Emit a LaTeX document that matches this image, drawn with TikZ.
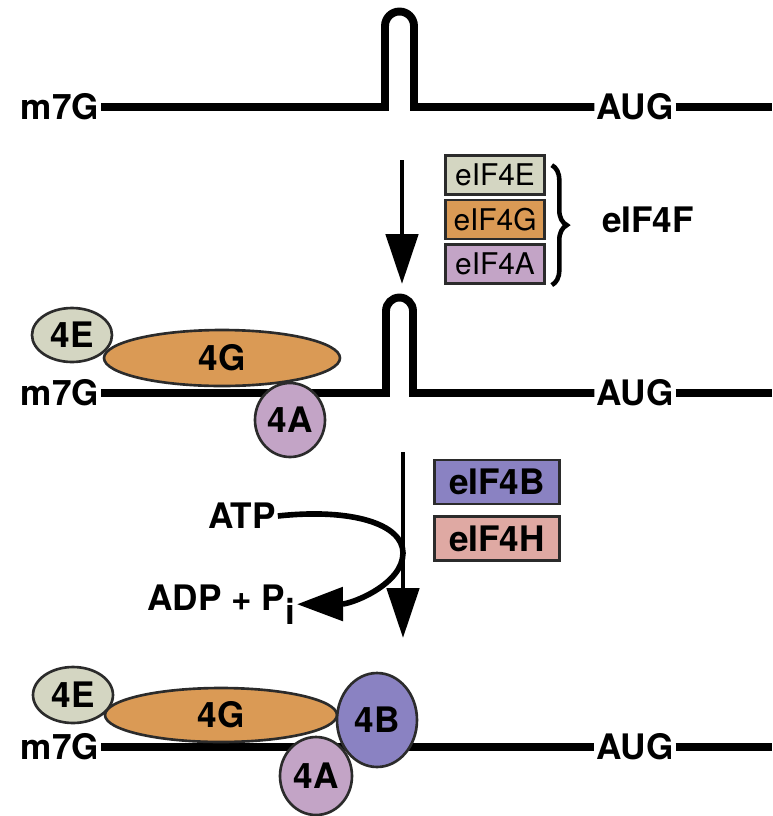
\documentclass[tikz,border=0pt]{standalone}
\usepackage{fontspec}
\setmainfont{TeX Gyre Heros}
\usetikzlibrary{arrows.meta,positioning,shapes.geometric,decorations.pathreplacing}

\definecolor{colE}{HTML}{D4D6C2}
\definecolor{colG}{HTML}{DA9A55}
\definecolor{colA}{HTML}{C3A4C6}
\definecolor{colB}{HTML}{8A82C2}
\definecolor{colH}{HTML}{DFA9A3}
\definecolor{edge}{HTML}{2B2B2B}

\tikzset{
  rna/.style={line width=4.5pt},
  lbl/.style={font=\fontsize{20}{20}\selectfont\bfseries, inner sep=1pt},
  prot/.style={ellipse, draw=edge, line width=1.5pt, inner sep=0pt,
    font=\fontsize{20}{20}\selectfont\bfseries},
  fbox/.style={rectangle, draw=edge, line width=1.5pt, inner sep=0pt,
    minimum width=1.98cm, minimum height=0.78cm, font=\fontsize{17}{17}\selectfont},
  bbox/.style={rectangle, draw=edge, line width=1.5pt, inner sep=0pt,
    minimum width=2.5cm, minimum height=0.88cm, font=\fontsize{20}{20}\selectfont\bfseries},
  stepdown/.style={line width=2.8pt, -{Triangle[length=1cm, width=0.64cm]}},
  hydro/.style={line width=3.2pt, -{Triangle[length=0.92cm, width=0.66cm]}},
  brc/.style={decorate, decoration={brace, amplitude=0.3cm}, line width=2.6pt}
}

\begin{document}
\begin{tikzpicture}[x=0.02cm, y=-0.02cm]
  \fill[white] (0,0) rectangle (772,816);
  \useasboundingbox (0,0) rectangle (772,816);

  % free mRNA with hairpin
  \node[lbl, anchor=east] (m7g1) at (101,107) {m7G};
  \node[lbl] (aug1) at (635,107) {AUG};
  \coordinate (end1) at (772,107);
  \draw[rna] (m7g1.east) -- (385,107) -- (385,26)
    arc[start angle=180, end angle=360, radius=14.5] -- (414,107) -- (aug1.west);
  \draw[rna] (aug1.east) -- (end1);

  % eIF4F binds
  \coordinate (s1a) at (402,160);
  \coordinate (s1b) at (402,284);
  \draw[stepdown] (s1a) -- (s1b);
  \node[fbox, fill=colE] (bx4e) at (495,175) {eIF4E};
  \node[fbox, fill=colG, below=0.06cm of bx4e] (bx4g) {eIF4G};
  \node[fbox, fill=colA, below=0.06cm of bx4g] (bx4a) {eIF4A};
  \draw[brc] ([xshift=0.12cm, yshift=-0.22cm]bx4e.north east) -- ([xshift=0.12cm]bx4a.south east);
  \node[lbl, anchor=west] (eif4f) at (600,220) {eIF4F};

  % cap-bound eIF4F
  \node[lbl, anchor=east] (m7g2) at (101,393) {m7G};
  \node[lbl] (aug2) at (635,393) {AUG};
  \coordinate (end2) at (772,393);
  \draw[rna] (m7g2.east) -- (386,393) -- (386,311)
    arc[start angle=180, end angle=360, radius=13.5] -- (413,393) -- (aug2.west);
  \draw[rna] (aug2.east) -- (end2);
  \node[prot, fill=colG, minimum width=4.72cm, minimum height=1.12cm] (g2) at (222,358) {4G};
  \node[prot, fill=colE, minimum width=1.6cm, minimum height=1.08cm] (e2) at (72,335) {4E};
  \node[prot, fill=colA, minimum width=1.4cm, minimum height=1.48cm] (a2) at (290,420) {4A};

  % unwinding step
  \coordinate (s2a) at (403,452);
  \coordinate (s2b) at (403,638);
  \draw[stepdown] (s2a) -- (s2b);
  \node[lbl] (atp) at (242,516) {ATP};
  \node[lbl, anchor=base east] (adp) at (297,610) {ADP + P\raisebox{-8pt}{i}};
  \draw[hydro] (atp.east) .. controls (352,508) and (403,524) .. (403,553)
    .. controls (403,584) and (352,604) .. (adp.east);
  \node[bbox, fill=colB] (bx4b) at (497,482) {eIF4B};
  \node[bbox, fill=colH, below=0.2cm of bx4b] (bx4h) {eIF4H};

  % unwound mRNA with eIF4B
  \node[lbl, anchor=east] (m7g3) at (101,747) {m7G};
  \node[lbl] (aug3) at (635,747) {AUG};
  \coordinate (end3) at (772,747);
  \draw[rna] (m7g3.east) -- (aug3.west);
  \draw[rna] (aug3.east) -- (end3);
  \node[prot, fill=colG, minimum width=4.64cm, minimum height=1.08cm] (g3) at (221,715) {4G};
  \node[prot, fill=colE, minimum width=1.6cm, minimum height=1.12cm] (e3) at (73,695) {4E};
  \node[prot, fill=colA, minimum width=1.44cm, minimum height=1.56cm] (a3) at (316,776) {4A};
  \node[prot, fill=colB, minimum width=1.6cm, minimum height=1.88cm] (b3) at (377,720) {4B};
\end{tikzpicture}
\end{document}
